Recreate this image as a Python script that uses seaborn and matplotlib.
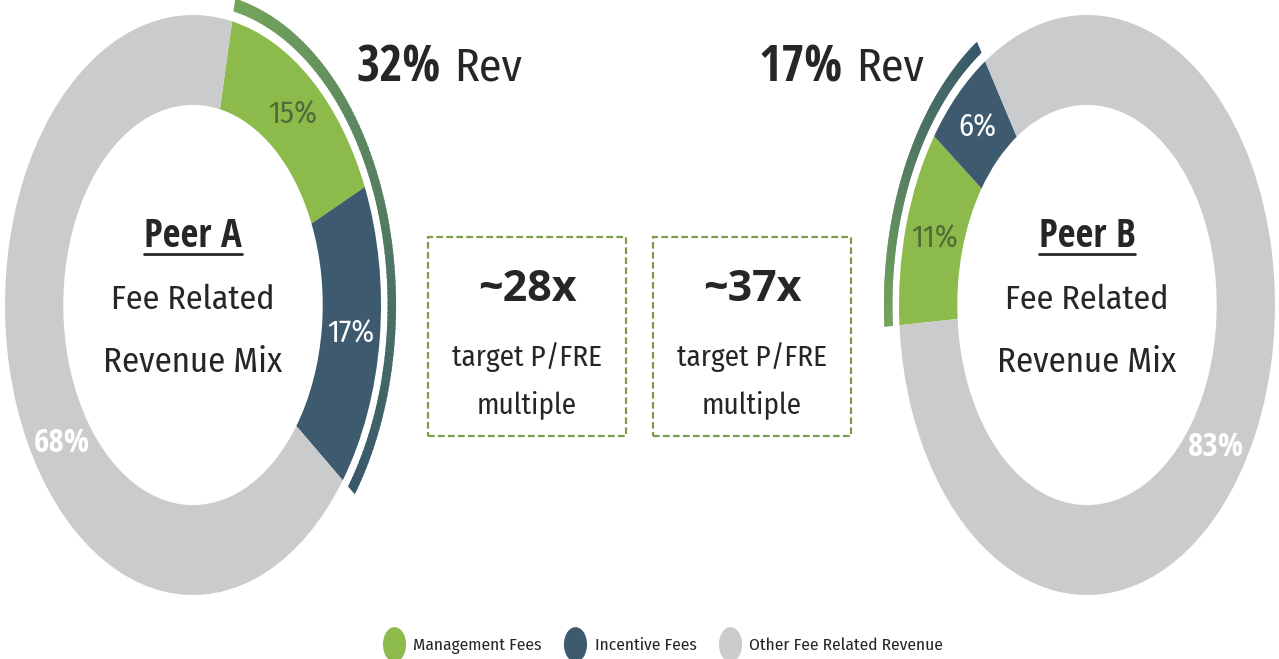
import matplotlib
matplotlib.use("Agg")
import numpy as np
import matplotlib.pyplot as plt
import seaborn as sns
from matplotlib.colors import to_rgb
from matplotlib.lines import Line2D
from matplotlib.patches import Rectangle, Wedge
from matplotlib.path import Path
from matplotlib.transforms import IdentityTransform

categories = ["Management Fees", "Incentive Fees", "Other Fee Related Revenue"]
peer_names = ["Peer A", "Peer B"]
peer_a_mix = [15, 17, 68]
peer_b_mix = [11, 6, 83]
multiples = ["~28x", "~37x"]
caption_lines = ["target P/FRE", "multiple"]
center_lines = ["Fee Related", "Revenue Mix"]

colors = ["#8cba4b", "#3d5a6f", "#cacbcd"]
arc_colors = ["#74a55a", "#37576a"]
dash_color = "#7d9b4e"
text_color = "#262626"

sns.set_style("white")
# the reference text is squeezed sideways, so use narrower faces
plt.rcParams["font.family"] = ["Fira Sans Condensed", "Open Sans", "DejaVu Sans"]
bold_narrow = dict(family=["Open Sans Condensed", "DejaVu Sans"], fontweight="bold")
bold_wide = dict(family=["Open Sans", "DejaVu Sans"], fontweight="bold")

W, H = 1279, 659
fig = plt.figure(figsize=(W / 100, H / 100), dpi=100)

# pie geometry in pixels (the reference is an ellipse)
rx, ry, lim = 188, 290, 1.15
pie_centers = [(193, 305), (1087, 305)]
start_angles = [78, 184]
grey_shift = [14, -9]


def pixel_axes(cx, cy):
    w = 2 * lim * rx
    h = 2 * lim * ry
    return fig.add_axes([(cx - w / 2) / W, (H - cy - h / 2) / H, w / W, h / H])


name_texts = []
for i, (name, mix) in enumerate(zip(peer_names, [peer_a_mix, peer_b_mix])):
    ax = pixel_axes(*pie_centers[i])
    wedges, _, autotexts = ax.pie(
        mix,
        colors=colors,
        startangle=start_angles[i],
        counterclock=False,
        wedgeprops=dict(width=0.31, edgecolor="none"),
        autopct=lambda p: f"{p:.0f}%",
        pctdistance=0.845,
        textprops=dict(fontsize=22, color="white"),
    )
    ax.set_aspect("auto")
    ax.set_xlim(-lim, lim)
    ax.set_ylim(-lim, lim)
    ax.axis("off")

    autotexts[0].set_color("#4d6d38")
    autotexts[2].set_fontfamily(bold_narrow["family"])
    autotexts[2].set_fontweight("bold")
    autotexts[2].set_fontsize(24)
    g = wedges[2]
    a = np.deg2rad((g.theta1 + g.theta2) / 2 + grey_shift[i])
    autotexts[2].set_position((0.845 * np.cos(a), 0.845 * np.sin(a)))

    # outer bracket over management + incentive, green fading to slate
    lo = min(wedges[0].theta1, wedges[1].theta1)
    hi = max(wedges[0].theta2, wedges[1].theta2)
    c0, c1 = np.array(to_rgb(arc_colors[0])), np.array(to_rgb(arc_colors[1]))
    steps = np.linspace(hi, lo, 121)
    for k in range(120):
        t = k / 119
        ax.add_patch(Wedge((0, 0), 1.08, steps[k + 1], min(steps[k] + 0.4, hi),
                           width=0.045, color=c0 * (1 - t) + c1 * t, lw=0))

    nt = ax.text(0, 0.234, name, ha="center", va="center", fontsize=28,
                 color=text_color, **bold_narrow)
    name_texts.append(nt)
    ax.text(0, 0.017, center_lines[0], ha="center", va="center", fontsize=24.5, color=text_color)
    ax.text(0, -0.197, center_lines[1], ha="center", va="center", fontsize=25, color=text_color)

# "xx% Rev" headers
rev_split = [(441, 454), (843, 856)]
for i, mix in enumerate([peer_a_mix, peer_b_mix]):
    fig.text(rev_split[i][0] / W, 1 - 68 / H, f"{mix[0] + mix[1]}%", ha="right", va="center",
             fontsize=36, color=text_color, **bold_narrow)
    fig.text(rev_split[i][1] / W, 1 - 68 / H, "Rev", ha="left", va="center",
             fontsize=33, color=text_color)

# dashed multiple boxes
box_left = [428, 653]
for i, m in enumerate(multiples):
    fig.add_artist(Rectangle((box_left[i] / W, 1 - 436 / H), 198 / W, 199 / H,
                             transform=fig.transFigure, fill=False, ec=dash_color,
                             lw=1.6, ls=(0, (3, 1.5))))
    cx = (box_left[i] + 99) / W
    fig.text(cx, 1 - 290 / H, m, ha="center", va="center", fontsize=31,
             color=text_color, **bold_wide)
    fig.text(cx, 1 - 357 / H, caption_lines[0], ha="center", va="center", fontsize=21,
             color=text_color)
    fig.text(cx, 1 - 405 / H, caption_lines[1], ha="center", va="center", fontsize=21,
             color=text_color)

# legend with squeezed dots
circ = Path.unit_circle()
dot = Path(circ.vertices * [0.65, 1.0], circ.codes)
handles = [Line2D([], [], ls="none", marker=dot, markersize=24, color=c) for c in colors]
fig.legend(handles, categories, loc="center", bbox_to_anchor=(663 / W, 13 / H), ncol=3,
           frameon=False, fontsize=12.5, handlelength=1.3, handletextpad=0.45,
           columnspacing=1.3, labelcolor=text_color)

# underline the peer names
fig.canvas.draw()
for nt in name_texts:
    bb = nt.get_window_extent()
    fig.add_artist(Line2D([bb.x0, bb.x1], [bb.y0 + 3, bb.y0 + 3], transform=IdentityTransform(),
                          color=text_color, lw=2))

fig.savefig("out.png", dpi=100)
